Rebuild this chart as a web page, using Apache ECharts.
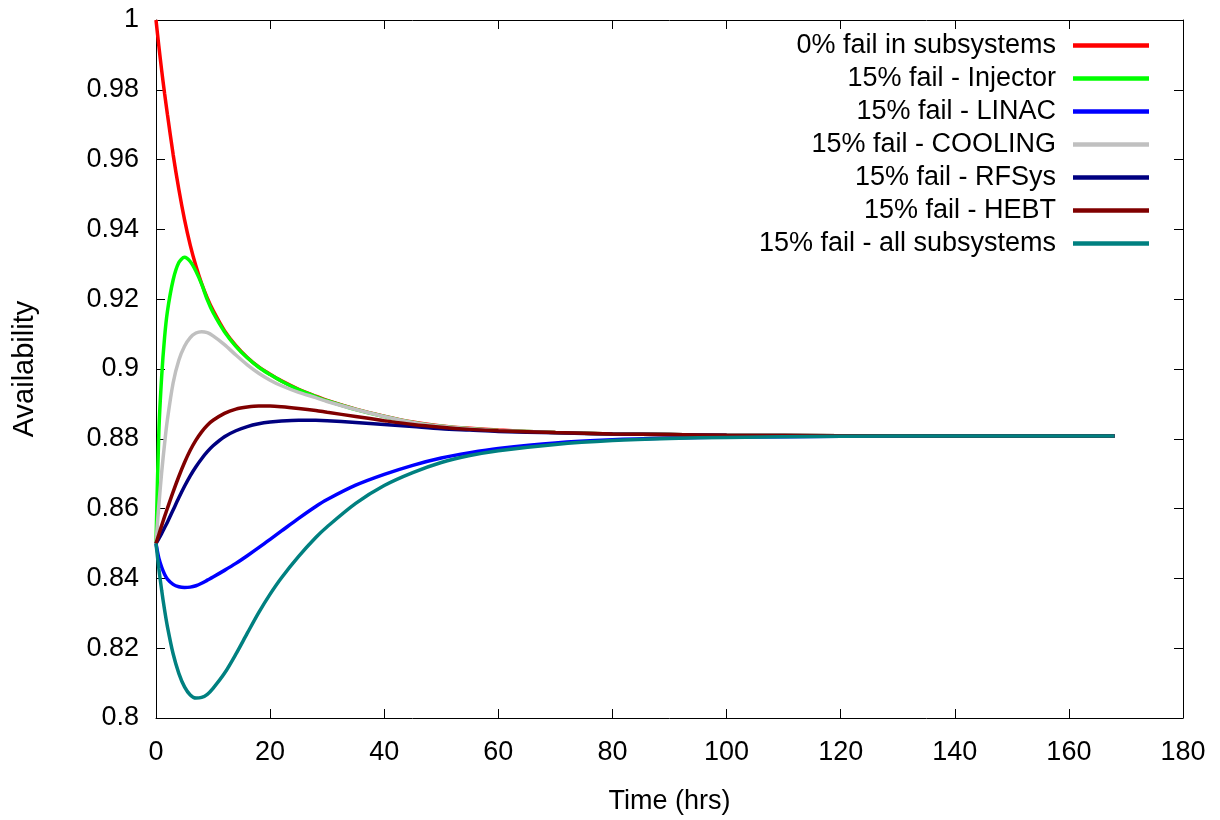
<!DOCTYPE html>
<html>
<head>
<meta charset="utf-8">
<script src="https://cdn.jsdelivr.net/npm/echarts@6/dist/echarts.min.js"></script>
<style>html,body{margin:0;padding:0;background:#fff}#c{width:1220px;height:820px}</style>
</head>
<body>
<div id="c"></div>
<script>
const hours = [0,0.5,1,1.5,2,3,4,5,6,7,8,9,10,12,14,16,18,20,22,25,28,30,35,40,45,50,55,60,70,80,90,100,120,140,168];
const noFail   = [1.0,0.9925,0.9855,0.979,0.973,0.9615,0.9515,0.9428,0.9355,0.9295,0.9245,0.9203,0.9168,0.911,0.9067,0.9033,0.9006,0.8985,0.8966,0.8942,0.8922,0.891,0.8885,0.8865,0.8848,0.8837,0.883,0.8825,0.8818,0.8814,0.8812,0.881,0.8809,0.8808,0.8808];
const injector = [0.85,0.882,0.898,0.909,0.9165,0.9255,0.9305,0.932,0.9308,0.928,0.9243,0.9198,0.9162,0.9107,0.9065,0.9032,0.9005,0.8984,0.8965,0.8941,0.8921,0.8909,0.8884,0.8864,0.8847,0.8836,0.8829,0.8824,0.8818,0.8814,0.8812,0.881,0.8809,0.8808,0.8808];
const linac    = [0.85,0.8458,0.8432,0.8412,0.8398,0.8383,0.8376,0.8374,0.8375,0.8379,0.8386,0.8395,0.8404,0.8423,0.8443,0.8465,0.8488,0.8512,0.8536,0.8572,0.8606,0.8626,0.8667,0.8698,0.8724,0.8745,0.876,0.8772,0.8788,0.8797,0.8802,0.8805,0.8807,0.8808,0.8808];
const cooling  = [0.85,0.861,0.8705,0.8785,0.8855,0.896,0.9025,0.9065,0.909,0.9103,0.9107,0.9104,0.9095,0.907,0.904,0.9012,0.8988,0.8968,0.8952,0.8933,0.8918,0.8907,0.8884,0.8864,0.8847,0.8836,0.8829,0.8824,0.8818,0.8814,0.8812,0.881,0.8809,0.8808,0.8808];
const rfsys    = [0.85,0.8514,0.8529,0.8545,0.8561,0.8596,0.8631,0.8664,0.8694,0.872,0.8743,0.8763,0.878,0.8806,0.8823,0.8835,0.8843,0.8848,0.8851,0.8853,0.8853,0.8852,0.8847,0.8841,0.8835,0.8829,0.8825,0.8821,0.8817,0.8814,0.8812,0.881,0.8809,0.8808,0.8808];
const hebt     = [0.85,0.8526,0.8552,0.8577,0.8601,0.8648,0.8692,0.8732,0.8767,0.8796,0.882,0.8839,0.8853,0.8873,0.8885,0.8891,0.8894,0.8894,0.8892,0.8887,0.8881,0.8876,0.8864,0.8852,0.8841,0.8833,0.8827,0.8823,0.8818,0.8814,0.8812,0.881,0.8809,0.8808,0.8808];
const allSubs  = [0.85,0.8428,0.8365,0.831,0.8262,0.8184,0.8128,0.8089,0.8066,0.8057,0.8059,0.8068,0.8085,0.8128,0.8183,0.8243,0.8302,0.8355,0.8402,0.8463,0.8517,0.8548,0.8615,0.8666,0.8703,0.8732,0.8752,0.8766,0.8784,0.8795,0.8801,0.8804,0.8807,0.8808,0.8808];

const seriesNames = ['0% fail in subsystems','15% fail - Injector','15% fail - LINAC','15% fail - COOLING','15% fail - RFSys','15% fail - HEBT','15% fail - all subsystems'];
const seriesValues = [noFail, injector, linac, cooling, rfsys, hebt, allSubs];
const seriesColors = ['#ff0000','#00ff00','#0000ff','#c0c0c0','#000080','#800000','#008080'];
const xTicks = {min:0, max:180, interval:20};
const yTicks = {min:0.8, max:1.0, interval:0.02};

const FONT = '"Liberation Sans", Arial, Helvetica, sans-serif';
const chart = echarts.init(document.getElementById('c'), null, {renderer:'canvas'});

const axisCommon = {
  axisLine:{show:true, onZero:false, lineStyle:{color:'#000', width:1}},
  axisTick:{show:true, inside:true, length:9, lineStyle:{color:'#000', width:1}},
  splitLine:{show:false}
};

chart.setOption({
  animation:false,
  backgroundColor:'#fff',
  grid:{left:156, right:37, top:20, bottom:101, containLabel:false},
  legend:{
    orient:'vertical', right:66, top:27, align:'right',
    itemWidth:76, itemHeight:14, itemGap:6,
    data: seriesNames.map((n,i)=>({name:n, icon:'path://M0,0 L100,0 L100,6 L0,6 Z', itemStyle:{color:seriesColors[i]}})),
    textStyle:{fontFamily:FONT, fontSize:27, lineHeight:27, color:'#000', width:340, align:'right', padding:[0,12,0,0]}
  },
  xAxis:[
    Object.assign({type:'value', position:'bottom', min:xTicks.min, max:xTicks.max, interval:xTicks.interval,
      name:'Time (hrs)', nameLocation:'middle', nameGap:70,
      nameTextStyle:{fontFamily:FONT, fontSize:27, color:'#000'},
      axisLabel:{fontFamily:FONT, fontSize:27, color:'#000', margin:21}}, axisCommon),
    Object.assign({type:'value', position:'top', min:xTicks.min, max:xTicks.max, interval:xTicks.interval,
      axisLabel:{show:false}}, axisCommon)
  ],
  yAxis:[
    Object.assign({type:'value', position:'left', min:yTicks.min, max:yTicks.max, interval:yTicks.interval,
      name:'Availability', nameLocation:'middle', nameGap:117, nameRotate:90,
      nameTextStyle:{fontFamily:FONT, fontSize:29, color:'#000'},
      axisLabel:{fontFamily:FONT, fontSize:27, color:'#000', margin:17,
        formatter:v=>String(parseFloat(v.toFixed(2)))}}, axisCommon),
    Object.assign({type:'value', position:'right', min:yTicks.min, max:yTicks.max, interval:yTicks.interval,
      axisLabel:{show:false}}, axisCommon)
  ],
  series: seriesNames.map((n,i)=>({
    name:n, type:'line', xAxisIndex:0, yAxisIndex:0,
    data: hours.map((h,k)=>[h, seriesValues[i][k]]),
    smooth:0.3,
    symbol:'none', showSymbol:false,
    lineStyle:{color:seriesColors[i], width:3.5},
    itemStyle:{color:seriesColors[i]},
    z: 2+i
  }))
});
</script>
</body>
</html>
